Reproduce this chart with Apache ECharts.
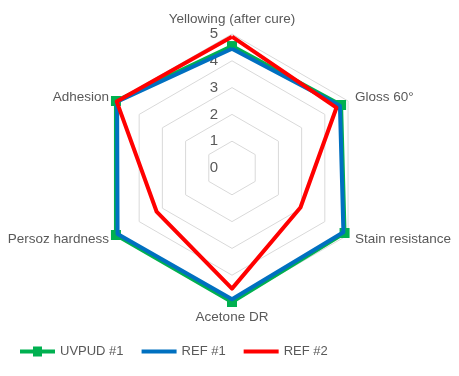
<!DOCTYPE html>
<html>
<head>
<meta charset="utf-8">
<script src="https://cdn.jsdelivr.net/npm/echarts@6/dist/echarts.min.js"></script>
<style>
    html, body { margin: 0; padding: 0; background: #fff; }
    #chart { width: 459px; height: 376px; }
</style>
</head>
<body>
<div id="chart"></div>
<script>
    // indicators in the order echarts lays them out (counter-clockwise from top)
    const indicators = ['Yellowing (after cure)', 'Adhesion', 'Persoz hardness', 'Acetone DR', 'Stain resistance', 'Gloss 60°'];
    const seriesNames = ['UVPUD #1', 'REF #1', 'REF #2'];
    const uvpud1 = [4.55, 5.0, 5.0, 5.0, 4.85, 4.7];
    const ref1 = [4.45, 4.95, 4.93, 4.9, 4.8, 4.65];
    const ref2 = [4.9, 4.97, 3.25, 4.5, 2.95, 4.5];
    const colors = ['#00B050', '#0070C0', '#FF0000'];

    const chart = echarts.init(document.getElementById('chart'));

    const values = [uvpud1, ref1, ref2];
    const series = seriesNames.map(function (name, i) {
        return {
            type: 'radar',
            name: name,
            z: 2 + i,
            symbol: i === 0 ? 'rect' : 'none',
            symbolSize: 10,
            lineStyle: { color: colors[i], width: 4 },
            itemStyle: { color: colors[i] },
            data: [{ name: name, value: values[i] }]
        };
    });

    chart.setOption({
        animation: false,
        textStyle: { fontFamily: 'Liberation Sans' },
        legend: {
            left: 15,
            top: 340,
            itemWidth: 35,
            itemHeight: 10,
            itemGap: 18,
            textStyle: { color: '#595959', fontSize: 13 },
            data: [
                { name: 'UVPUD #1', icon: 'path://M0,3H13V0H22V3H35V7H22V10H13V7H0Z' },
                { name: 'REF #1', icon: 'path://M0,0M0,3H35V7H0ZM35,10' },
                { name: 'REF #2', icon: 'path://M0,0M0,3H35V7H0ZM35,10' }
            ]
        },
        radar: {
            center: [232, 168],
            radius: 134,
            startAngle: 90,
            splitNumber: 5,
            shape: 'polygon',
            nameGap: 8,
            axisName: { color: '#595959', fontSize: 13.5 },
            axisLine: { show: false },
            axisTick: { show: false },
            axisLabel: { show: false },
            splitArea: { show: false },
            splitLine: { lineStyle: { color: '#d9d9d9', width: 1 } },
            indicator: indicators.map(function (name, i) {
                const ind = { name: name, min: 0, max: 5 };
                if (i === 0) {
                    ind.axisLabel = { show: true, color: '#595959', fontSize: 15, margin: 14 };
                }
                return ind;
            })
        },
        series: series
    });
</script>
</body>
</html>
